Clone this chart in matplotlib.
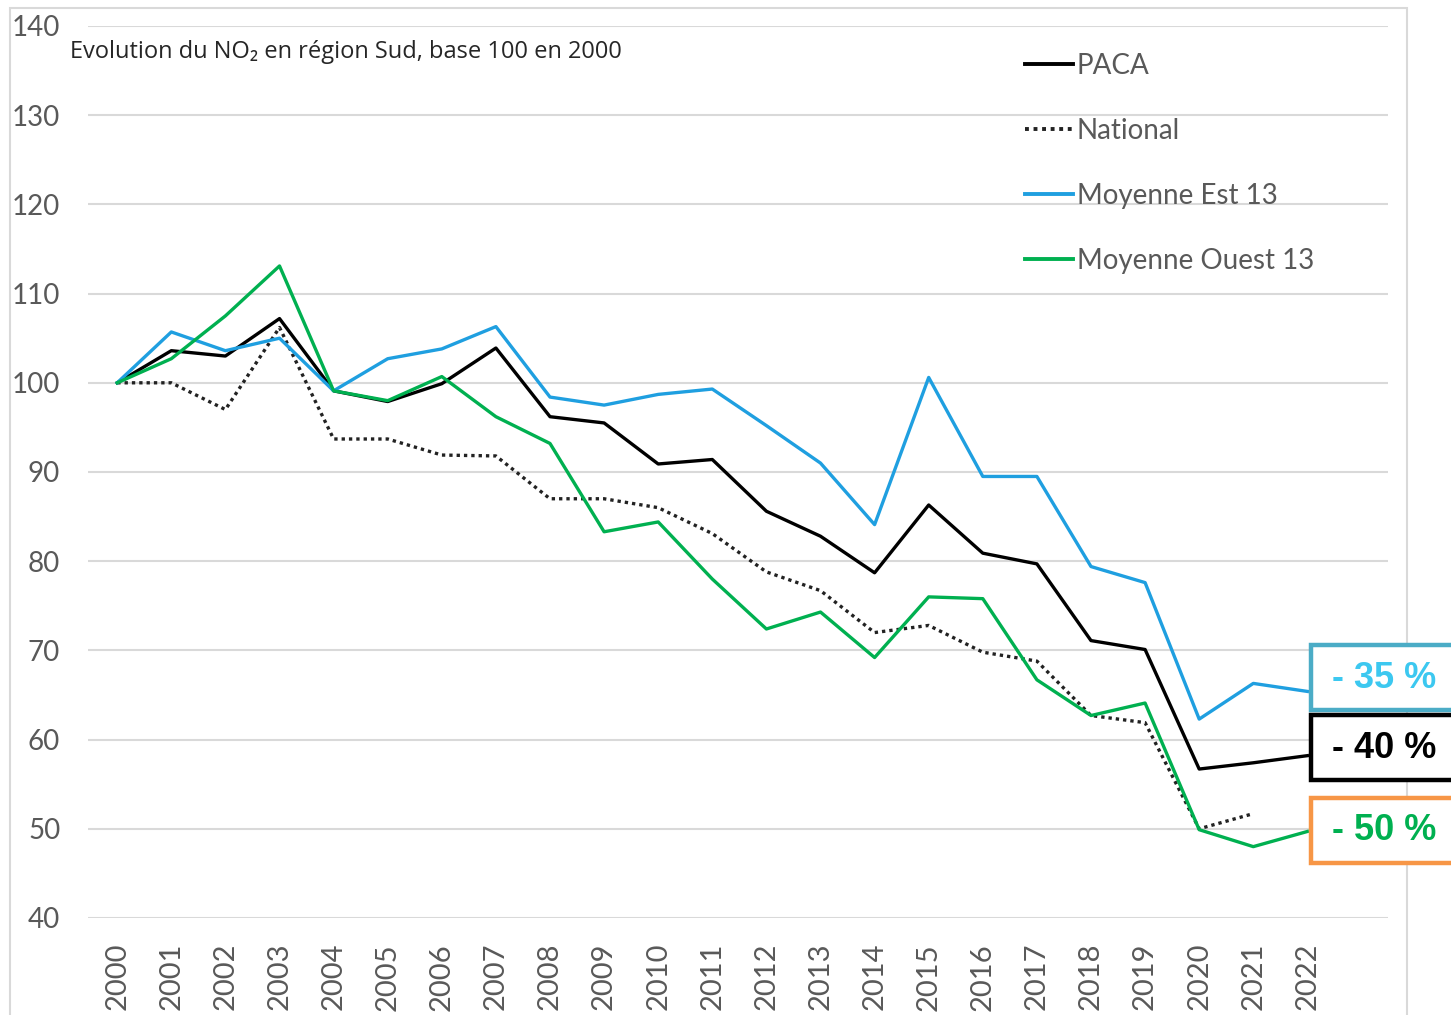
import matplotlib
matplotlib.use('Agg')
import matplotlib.pyplot as plt
from matplotlib.patches import Rectangle
import numpy as np

# data (base 100 in 2000)
years = list(range(2000, 2023))
paca = [100, 103.6, 103.0, 107.2, 99.1, 97.9, 99.9, 103.9, 96.2, 95.5, 90.9, 91.4,
        85.6, 82.8, 78.7, 86.3, 80.9, 79.7, 71.1, 70.1, 56.7, 57.4, 58.2]
national = [100, 100, 97.0, 106.2, 93.7, 93.7, 91.9, 91.8, 87.0, 87.0, 86.0, 83.1,
            78.8, 76.7, 72.0, 72.8, 69.8, 68.8, 62.7, 61.9, 50.0, 51.7, np.nan]
est13 = [100, 105.7, 103.6, 105.0, 99.1, 102.7, 103.8, 106.3, 98.4, 97.5, 98.7, 99.3,
         95.2, 91.0, 84.1, 100.6, 89.5, 89.5, 79.4, 77.6, 62.3, 66.3, 65.4]
ouest13 = [100, 102.7, 107.5, 113.1, 99.1, 98.0, 100.7, 96.2, 93.2, 83.3, 84.4, 78.0,
           72.4, 74.3, 69.2, 76.0, 75.8, 66.7, 62.7, 64.1, 49.9, 48.0, 49.7]
box_labels = ["- 35 %", "- 40 %", "- 50 %"]

plt.rcParams['font.family'] = ['Lato', 'DejaVu Sans']

W, H = 1451, 1015
fig = plt.figure(figsize=(W / 100, H / 100), dpi=100)
ax = fig.add_axes([88 / W, 1 - 918 / H, 1300 / W, 892 / H])

x = np.arange(len(years))
grey = "#595959"
blue = "#1f9fe0"
green = "#00b050"

ax.plot(x, paca, color="black", lw=2.4, label="PACA")
ax.plot(x, national, color="#222222", lw=2.4, linestyle=(0, (1, 1.2)), label="National")
ax.plot(x, est13, color=blue, lw=2.4, label="Moyenne Est 13")
ax.plot(x, ouest13, color=green, lw=2.4, label="Moyenne Ouest 13")

ax.set_ylim(40, 140)
ax.set_yticks(range(40, 141, 10))
ax.set_xlim(-0.54, 23.49)
ax.set_xticks(x)
ax.set_xticklabels([str(y) for y in years], rotation=90, va="top")
ax.yaxis.grid(True, color="#d9d9d9", lw=1.5)
ax.set_axisbelow(True)
for s in ax.spines.values():
    s.set_visible(False)
ax.tick_params(length=0, colors=grey)
ax.tick_params(axis="y", pad=20, labelsize=20)
ax.tick_params(axis="x", pad=18, labelsize=21)

leg = ax.legend(loc="upper left", bbox_to_anchor=(1025 / W, 1 - 53 / H),
                bbox_transform=fig.transFigure, frameon=False,
                handlelength=1.72, handletextpad=0.15, labelspacing=1.4,
                borderaxespad=0, borderpad=0, prop={"size": 20})
for t in leg.get_texts():
    t.set_color(grey)
for h in leg.get_lines():
    h.set_linewidth(2.8)

fig.text(70 / W, 1 - 52 / H, "Evolution du NO₂ en région Sud, base 100 en 2000",
         fontsize=17, color="#262626", va="center", ha="left", family="Open Sans")

# outer chart border
fig.patches.append(Rectangle((10 / W, -0.01), 1397 / W, 1 - 8 / H + 0.01,
                             transform=fig.transFigure, fill=False,
                             edgecolor="#d9d9d9", lw=1.5))

# percentage boxes on the right
box_tops = [645, 715, 798]
box_edges = ["#4bacc6", "black", "#f79646"]
box_text = ["#3cc8f0", "black", green]
for lbl, top, ec, tc in zip(box_labels, box_tops, box_edges, box_text):
    fig.patches.append(Rectangle((1311 / W, 1 - (top + 65) / H), 160 / W, 65 / H,
                                 transform=fig.transFigure, facecolor="white",
                                 edgecolor=ec, lw=3.2, clip_on=False))
    fig.text(1332 / W, 1 - (top + 33) / H, lbl, fontsize=26, fontweight="bold",
             color=tc, va="center", ha="left", family="Liberation Sans")

fig.savefig("out.png", dpi=100)
